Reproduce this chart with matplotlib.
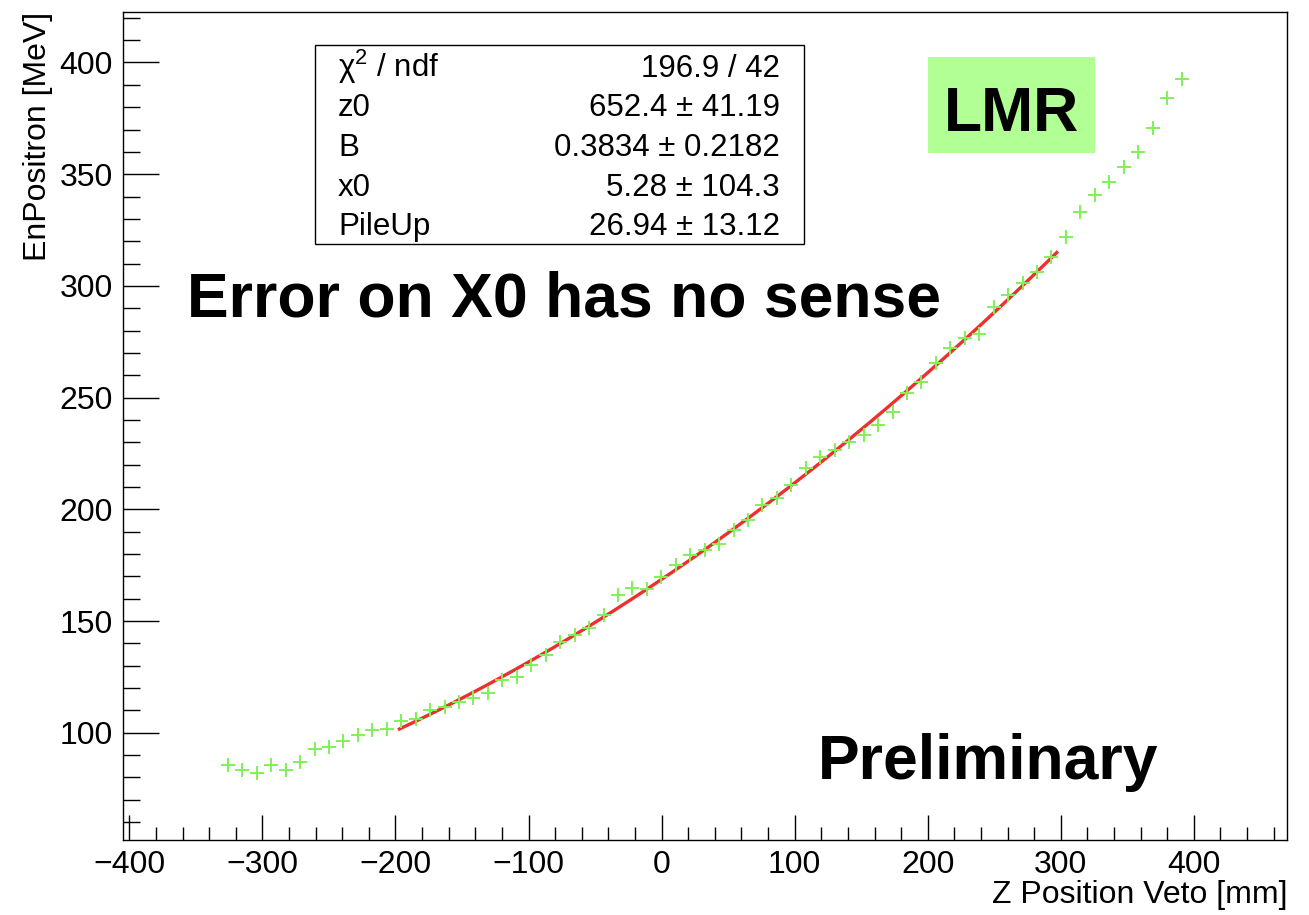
import numpy as np
import matplotlib.pyplot as plt
from matplotlib.patches import Rectangle

plt.rcParams['font.family'] = ['Liberation Sans', 'DejaVu Sans']
plt.rcParams['mathtext.fontset'] = 'custom'
plt.rcParams['mathtext.rm'] = 'Liberation Sans'

# profile points
z_pos = [-326.0, -315.1, -304.3, -293.4, -282.6, -271.7, -260.8, -250.0, -239.1, -228.3,
         -217.4, -206.5, -195.7, -184.8, -174.0, -163.1, -152.2, -141.4, -130.5, -119.7,
         -108.8, -97.9, -87.1, -76.2, -65.4, -54.5, -43.6, -32.8, -21.9, -11.1,
         -0.2, 10.7, 21.5, 32.4, 43.2, 54.1, 65.0, 75.8, 86.7, 97.5,
         108.4, 119.3, 130.1, 141.0, 151.8, 162.7, 173.6, 184.4, 195.3, 206.1,
         217.0, 227.9, 238.7, 249.6, 260.4, 271.3, 282.2, 293.0, 303.9, 314.7,
         325.6, 336.5, 347.3, 358.2, 369.0, 379.9, 390.8]
en_pos = [85.5, 83.3, 82.1, 85.5, 83.3, 87.0, 92.6, 93.7, 96.4, 99.0,
          101.2, 101.7, 105.2, 106.0, 110.2, 111.4, 113.9, 115.4, 117.9, 123.6,
          125.1, 130.5, 134.8, 140.7, 143.7, 146.7, 152.7, 161.6, 164.6, 164.3,
          169.5, 175.0, 179.5, 181.7, 184.7, 190.6, 195.4, 201.8, 205.2, 210.8,
          218.7, 223.4, 226.5, 230.3, 233.3, 237.7, 243.7, 251.9, 257.1, 265.4,
          272.1, 276.5, 278.5, 290.4, 295.9, 301.2, 306.4, 313.1, 322.0, 333.2,
          340.7, 346.6, 353.1, 359.8, 370.5, 384.2, 392.5]

fit_lo, fit_hi = -197, 297

stat_names = ['χ$^{2}$ / ndf', 'z0', 'B', 'x0', 'PileUp']
stat_values = ['196.9 / 42', '652.4 ± 41.19', '0.3834 ± 0.2182', '5.28 ± 104.3', '26.94 ± 13.12']

W, H = 1309, 915
fig = plt.figure(figsize=(W / 100, H / 100), dpi=100)

def fx(px):
    return px / W

def fy(py):
    return 1 - py / H

ax = fig.add_axes([fx(122.7), fy(840), fx(1287) - fx(122.7), fy(12) - fy(840)])

x = np.array(z_pos)
y = np.array(en_pos)

# fit curve over the fit range
sel = (x >= fit_lo) & (x <= fit_hi)
coef = np.polyfit(x[sel], y[sel], 2)
xf = np.linspace(fit_lo, fit_hi, 200)
ax.plot(xf, np.polyval(coef, xf), color='#EE2F2F', lw=2.4, zorder=2)

ax.plot(x, y, ls='none', marker='+', ms=10.5, mew=1.4, color='#80F058', zorder=3)

ax.set_xlim(-405, 470)
ax.set_ylim(52, 422.6)
ax.set_xticks(np.arange(-400, 401, 100))
ax.set_xticks(np.arange(-400, 471, 20), minor=True)
ax.set_yticks(np.arange(100, 401, 50))
ax.set_yticks(np.arange(60, 421, 10), minor=True)
ax.tick_params(which='both', direction='in', top=False, right=False, width=1.0, labelsize=23)
ax.tick_params(axis='x', which='major', length=18, pad=7)
ax.tick_params(axis='x', which='minor', length=9.4)
ax.tick_params(axis='y', which='major', length=26, pad=7)
ax.tick_params(axis='y', which='minor', length=12.5)
for s in ax.spines.values():
    s.set_linewidth(1.0)

fig.text(fx(1287), fy(903), 'Z Position Veto [mm]', ha='right', va='baseline', fontsize=23)
fig.text(fx(38), fy(12), 'EnPositron [MeV]', rotation=90, ha='center', va='top', fontsize=23)

# stats box
fig.patches.append(Rectangle((fx(315), fy(244)), fx(804) - fx(315), fy(45) - fy(244),
                             transform=fig.transFigure, fill=True, facecolor='white',
                             edgecolor='black', lw=1.0, zorder=5))
for i, (n, v) in enumerate(zip(stat_names, stat_values)):
    yb = fy(77 + 39.5 * i)
    fig.text(fx(338), yb, n, ha='left', va='baseline', fontsize=22.5, zorder=6)
    fig.text(fx(780), yb, v, ha='right', va='baseline', fontsize=22.5, zorder=6)

# LMR label
fig.patches.append(Rectangle((fx(928), fy(153)), fx(1095) - fx(928), fy(57) - fy(153),
                             transform=fig.transFigure, facecolor='#B2FF96',
                             edgecolor='none', zorder=5))
fig.text(fx(1011), fy(131), 'LMR', ha='center', va='baseline', fontsize=45,
         fontweight='bold', zorder=6)

fig.text(fx(187), fy(316), 'Error on X0 has no sense', ha='left', va='baseline',
         fontsize=45, fontweight='bold')
fig.text(fx(818), fy(779), 'Preliminary', ha='left', va='baseline',
         fontsize=45, fontweight='bold')

fig.savefig('out.png', dpi=100)
